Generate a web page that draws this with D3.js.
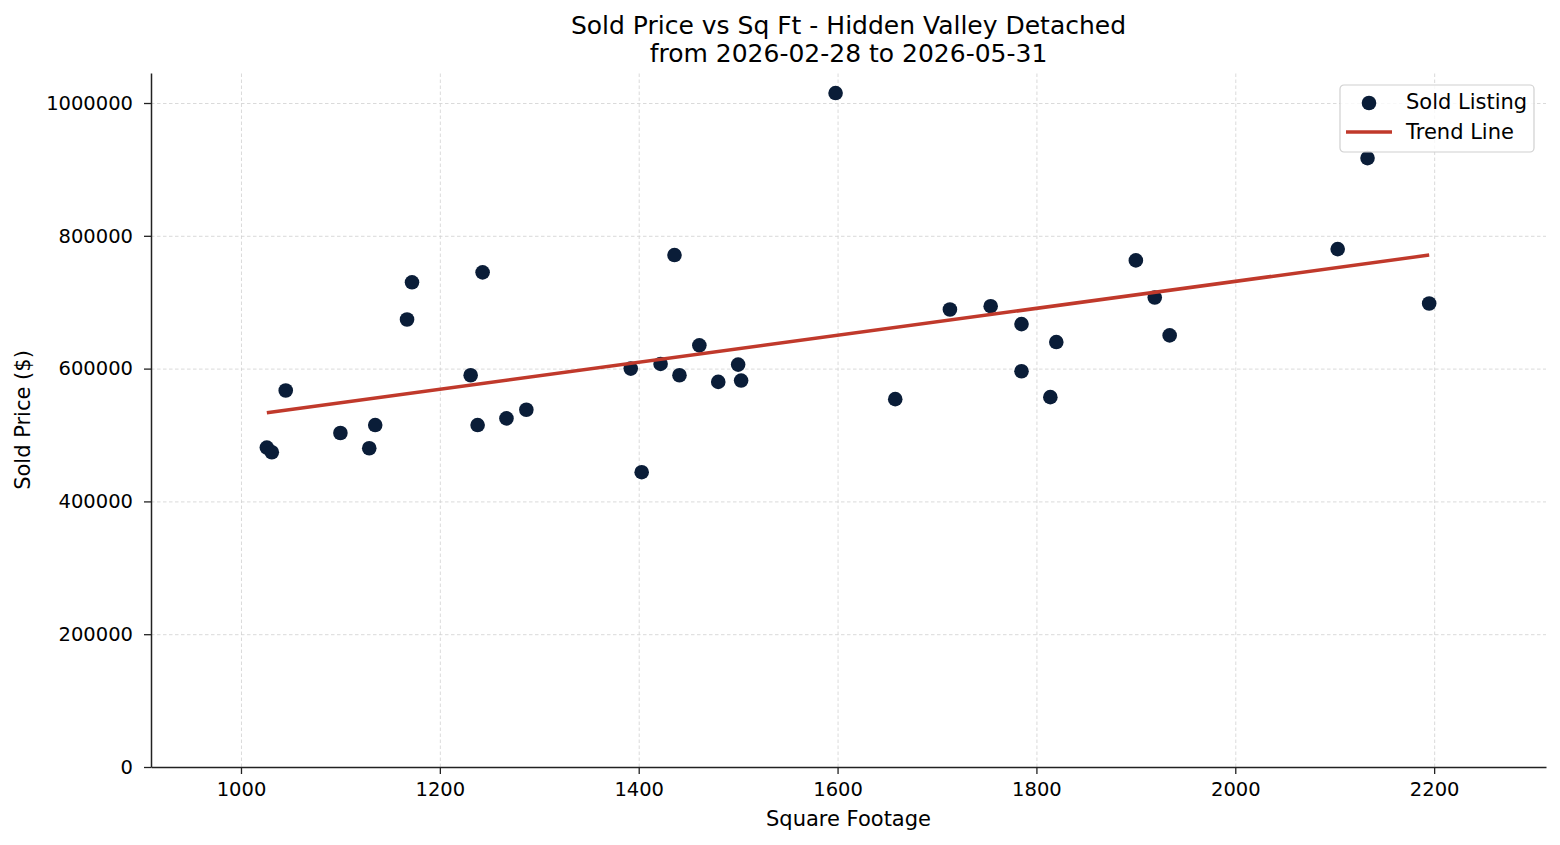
<!DOCTYPE html>
<html>
<head>
<meta charset="utf-8">
<script src="https://cdn.jsdelivr.net/npm/d3@7"></script>
<style>
  body { margin: 0; background: #fff; }
  svg text { font-family: "DejaVu Sans", sans-serif; fill: #000; }
  .grid line { stroke: #d0d0d0; stroke-dasharray: 3.5,2.5; stroke-width: 0.8; }
  .grid .domain { display: none; }
  .axis text { font-size: 19.5px; font-family: "DejaVu Sans", sans-serif; }
  .axis line, .axis path { stroke: #222; }
</style>
</head>
<body>
<div class="scatter-container"></div>
<script>
// Data.
const sqft = [
  1026, 1031, 1045, 1100, 1129, 1135, 1167, 1172, 1231, 1238, 1243, 1267,
  1287, 1392, 1403, 1422, 1436, 1441, 1461, 1480, 1500, 1503, 1598, 1658,
  1713, 1754, 1785, 1785, 1814, 1820, 1900, 1919, 1934, 2103, 2133, 2195
];
const soldPrice = [
  481000, 474000, 567000, 503000, 480000, 515000, 674000, 730000, 590000, 515000, 745000, 525000,
  538000, 600000, 444000, 607000, 771000, 590000, 635000, 580000, 606000, 582000, 1015000, 554000,
  689000, 694000, 667000, 596000, 557000, 640000, 763000, 707000, 650000, 780000, 917000, 698000
];
const trendX = [1026, 2195];
const trendY = [533500, 771000];

const xTicks = [1000, 1200, 1400, 1600, 1800, 2000, 2200];
const yTicks = [0, 200000, 400000, 600000, 800000, 1000000];
const legendItems = ["Sold Listing", "Trend Line"];

const points = sqft.map((d, i) => ({ x: d, y: soldPrice[i] }));
const trend = trendX.map((d, i) => ({ x: d, y: trendY[i] }));

// Margin convention.
const W = 1560, H = 845;
const margin = { top: 73, right: 14, bottom: 78, left: 151 };
const width = W - margin.left - margin.right;
const height = H - margin.top - margin.bottom;

const svg = d3.select(".scatter-container")
  .append("svg")
  .attr("width", W)
  .attr("height", H);

const g = svg.append("g")
  .attr("transform", `translate(${margin.left}, ${margin.top})`);

// Scales.
const xScale = d3.scaleLinear().domain([909.5, 2312.5]).range([0, width]);
const yScale = d3.scaleLinear().domain([0, 1045200]).range([height, 0]);

// Grid.
g.append("g")
  .attr("class", "grid")
  .attr("transform", `translate(0, ${height})`)
  .call(d3.axisBottom(xScale).tickValues(xTicks).tickSize(-height).tickFormat(""));
g.append("g")
  .attr("class", "grid")
  .call(d3.axisLeft(yScale).tickValues(yTicks).tickSize(-width).tickFormat(""));

// Axes.
const xAxisDraw = g.append("g")
  .attr("class", "axis")
  .attr("transform", `translate(0, ${height})`)
  .call(d3.axisBottom(xScale).tickValues(xTicks).tickSize(7).tickSizeOuter(0).tickPadding(8).tickFormat(d3.format("d")));
xAxisDraw.select(".domain").attr("stroke-width", 1.5);
xAxisDraw.selectAll(".tick line").attr("stroke-width", 1.3);

const yAxisDraw = g.append("g")
  .attr("class", "axis")
  .call(d3.axisLeft(yScale).tickValues(yTicks).tickSize(7).tickSizeOuter(0).tickPadding(11).tickFormat(d3.format("d")));
yAxisDraw.select(".domain").attr("stroke-width", 1.5);
yAxisDraw.selectAll(".tick line").attr("stroke-width", 1.3);

// Points.
g.append("g")
  .selectAll("circle")
  .data(points)
  .enter()
  .append("circle")
  .attr("cx", (d) => xScale(d.x))
  .attr("cy", (d) => yScale(d.y))
  .attr("r", 7.3)
  .attr("fill", "#0a1d38");

// Trend line.
const lineGen = d3.line().x((d) => xScale(d.x)).y((d) => yScale(d.y));
g.append("path")
  .attr("d", lineGen(trend))
  .attr("fill", "none")
  .attr("stroke", "#c0392b")
  .attr("stroke-width", 3.5);

// Titles.
svg.append("text")
  .attr("x", margin.left + width / 2)
  .attr("y", 34)
  .attr("text-anchor", "middle")
  .style("font-size", "25px")
  .text("Sold Price vs Sq Ft - Hidden Valley Detached");
svg.append("text")
  .attr("x", margin.left + width / 2)
  .attr("y", 62)
  .attr("text-anchor", "middle")
  .style("font-size", "25px")
  .text("from 2026-02-28 to 2026-05-31");

svg.append("text")
  .attr("x", margin.left + width / 2)
  .attr("y", 826)
  .attr("text-anchor", "middle")
  .style("font-size", "21px")
  .text("Square Footage");
svg.append("text")
  .attr("transform", `translate(30, ${margin.top + height / 2}) rotate(-90)`)
  .attr("text-anchor", "middle")
  .style("font-size", "21px")
  .text("Sold Price ($)");

// Legend.
const legend = svg.append("g").attr("transform", "translate(1340, 85)");
legend.append("rect")
  .attr("width", 194)
  .attr("height", 67)
  .attr("rx", 4)
  .attr("fill", "rgba(255,255,255,0.8)")
  .attr("stroke", "#d0d0d0")
  .attr("stroke-width", 1.2);
legend.append("circle")
  .attr("cx", 29)
  .attr("cy", 18)
  .attr("r", 7.3)
  .attr("fill", "#0a1d38");
legend.append("line")
  .attr("x1", 6).attr("x2", 52)
  .attr("y1", 47).attr("y2", 47)
  .attr("stroke", "#c0392b")
  .attr("stroke-width", 3.5);
legend.selectAll(".legend-label")
  .data(legendItems)
  .enter()
  .append("text")
  .attr("class", "legend-label")
  .attr("x", 66)
  .attr("y", (d, i) => 24 + i * 30)
  .style("font-size", "21px")
  .text((d) => d);
</script>
</body>
</html>
